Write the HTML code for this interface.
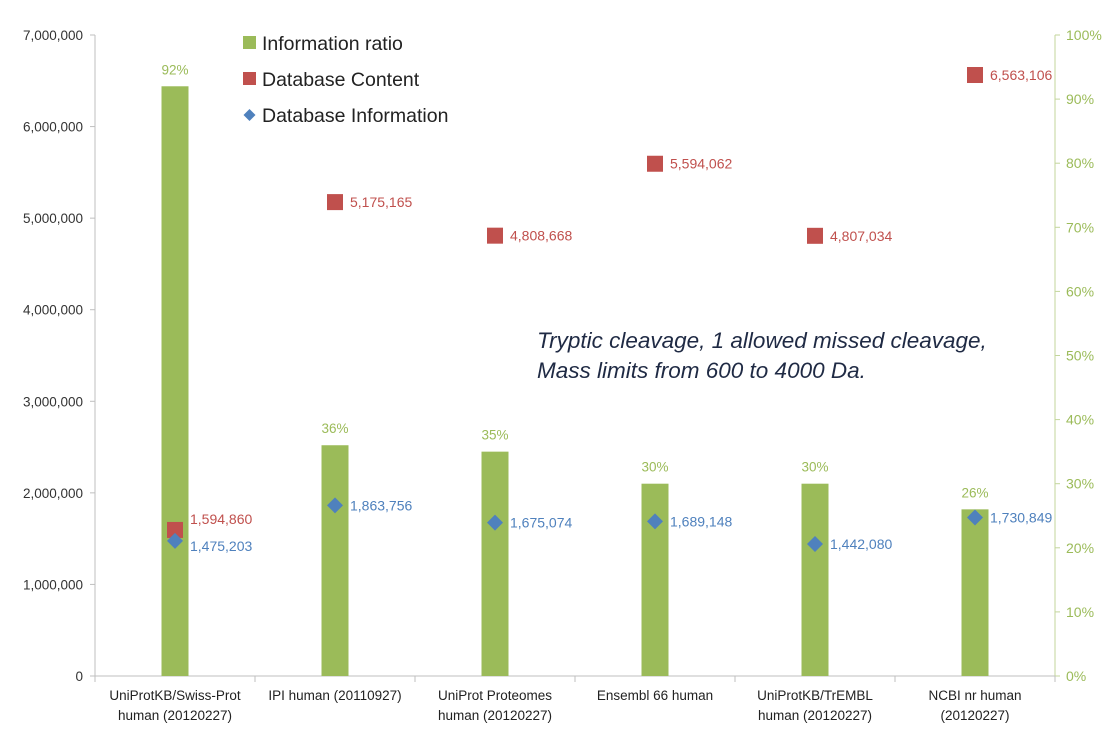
<!DOCTYPE html>
<html><head><meta charset="utf-8"><style>
html,body{margin:0;padding:0;background:#fff;}
svg{display:block;font-family:"Liberation Sans",sans-serif;}
</style></head><body>
<svg id="chart" width="1115" height="736" viewBox="0 0 1115 736" xmlns="http://www.w3.org/2000/svg">
<g id="axes"></g>
<g id="marks"></g>
<g>
<rect x="243" y="36" width="13" height="13" fill="#9bbb59"/>
<text x="262" y="50" font-size="19.5" fill="#222">Information ratio</text>
<rect x="243" y="72" width="13" height="13" fill="#c0504d"/>
<text x="262" y="86" font-size="19.5" fill="#222">Database Content</text>
<path d="M249.5,109 l6,6 l-6,6 l-6,-6z" fill="#4f81bd"/>
<text x="262" y="122" font-size="19.5" fill="#222">Database Information</text>
</g>
<g font-style="italic" font-size="22.5" fill="#1f2a44">
<text x="537" y="348">Tryptic cleavage, 1 allowed missed cleavage,</text>
<text x="537" y="378">Mass limits from 600 to 4000 Da.</text>
</g>
</svg>
<script>
const categories = [["UniProtKB/Swiss-Prot","human (20120227)"],["IPI human (20110927)",""],["UniProt Proteomes","human (20120227)"],["Ensembl 66 human",""],["UniProtKB/TrEMBL","human (20120227)"],["NCBI nr human","(20120227)"]];
const ratio = [92,36,35,30,30,26];
const content = [1594860,5175165,4808668,5594062,4807034,6563106];
const information = [1475203,1863756,1675074,1689148,1442080,1730849];
const leftTicks = [0,1000000,2000000,3000000,4000000,5000000,6000000,7000000];
const rightTicks = [0,10,20,30,40,50,60,70,80,90,100];

const NS="http://www.w3.org/2000/svg";
const X0=95,X1=1055,Y0=676,Y1=35;
const band=(X1-X0)/categories.length;
const xC=i=>X0+band*(i+0.5);
const yL=v=>Y0-(v/7000000)*(Y0-Y1);
const yR=v=>Y0-(v/100)*(Y0-Y1);
const fmt=v=>v.toLocaleString('en-US');
function mk(tag,attrs,parent,txt){const e=document.createElementNS(NS,tag);for(const k in attrs)e.setAttribute(k,attrs[k]);if(txt!==undefined)e.textContent=txt;parent.appendChild(e);return e;}
const axes=document.getElementById('axes'),marks=document.getElementById('marks');

let e=mk('line',{x1:X0,y1:Y1,x2:X0,y2:Y0,stroke:'#bfbfbf'},axes);


e=mk('line',{x1:X1,y1:Y1,x2:X1,y2:Y0,stroke:'#c3d69b'},axes);


e=mk('line',{x1:X0,y1:Y0,x2:X1,y2:Y0,stroke:'#bfbfbf'},axes);


leftTicks.forEach(t=>{const y=yL(t);
 mk('line',{x1:X0-5,y1:y,x2:X0,y2:y,stroke:'#bfbfbf'},axes);
 e=mk('text',{x:X0-12,y:y+5,'text-anchor':'end','font-size':13.5,fill:'#333'},axes,fmt(t));
 
 });
rightTicks.forEach(t=>{const y=yR(t);
 mk('line',{x1:X1,y1:y,x2:X1+5,y2:y,stroke:'#c3d69b'},axes);
 e=mk('text',{x:X1+11,y:y+5,'font-size':14,fill:'#9bbb59'},axes,t+'%');
 
 });
for(let i=0;i<=categories.length;i++){const x=X0+band*i;mk('line',{x1:x,y1:Y0,x2:x,y2:Y0+6,stroke:'#bfbfbf'},axes);}
categories.forEach((c,i)=>{
 e=mk('text',{x:xC(i),y:Y0+24,'text-anchor':'middle','font-size':13.5,fill:'#222'},axes,c[0]);
 
 
 if(c[1]){e=mk('text',{x:xC(i),y:Y0+44,'text-anchor':'middle','font-size':13.5,fill:'#222'},axes,c[1]);
 
 }
});
ratio.forEach((v,i)=>{const y=yR(v);
 e=mk('rect',{x:xC(i)-13.5,y:y,width:27,height:Y0-y,fill:'#9bbb59'},marks);
 
 
 e=mk('text',{x:xC(i),y:y-12,'text-anchor':'middle','font-size':13.5,fill:'#9bbb59'},marks,v+'%');
 
 });
content.forEach((v,i)=>{const y=yL(v);
 e=mk('rect',{x:xC(i)-8,y:y-8,width:16,height:16,fill:'#c0504d'},marks);
 
 
 const dy = i===0 ? -6 : 5;
 e=mk('text',{x:xC(i)+15,y:y+dy,'font-size':14,fill:'#c0504d'},marks,fmt(v));
 
 });
information.forEach((v,i)=>{const y=yL(v),x=xC(i);
 e=mk('path',{d:`M${x},${y-8} l8,8 l-8,8 l-8,-8z`,fill:'#4f81bd'},marks);
 
 
 const dy = i===0 ? 10 : 5;
 e=mk('text',{x:x+15,y:y+dy,'font-size':14,fill:'#4f81bd'},marks,fmt(v));
 
 });
</script>
</body></html>
